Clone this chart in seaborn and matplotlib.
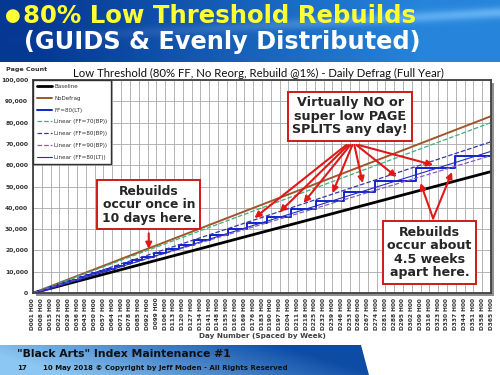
import numpy as np
import pandas as pd
import seaborn as sns
import matplotlib.pyplot as plt
from matplotlib.patches import Rectangle, Polygon

# page counts (day number, pages)
baseline_days = [1, 365]
baseline_pages = [0, 57000]
nodefrag_days = [1, 365]
nodefrag_pages = [0, 83000]

# FF=80(LT): page count jumps at each rebuild, then stays flat
lt_days = [1, 5, 8, 11, 14, 17, 21, 25, 29, 33, 38, 43, 48, 54, 60, 66, 73, 80, 88, 97,
           107, 117, 129, 142, 156, 171, 187, 206, 226, 248, 273, 305, 336, 365]
lt_pages = [0, 1000, 1500, 2100, 2700, 3300, 4000, 4800, 5600, 6300, 7300, 8300, 9200,
            10400, 11500, 12700, 14000, 15400, 16900, 18600, 20500, 22500, 24800, 27300,
            30000, 32800, 35700, 39600, 43400, 47600, 52400, 58600, 64500, 64500]

# linear trend lines (start / end)
trend_days = [1, 365]
trend_ff70_bp = [0, 80000]
trend_ff80_bp = [0, 71000]
trend_ff90_bp = [0, 64500]
trend_ff80_lt = [-500, 66500]

tick_days = list(range(1, 366, 7))
tick_labels = [f"D{d:03d} H00" for d in tick_days]

sns.set_style("white")
plt.rcParams['font.family'] = ['DejaVu Sans']

fig = plt.figure(figsize=(5, 3.75), dpi=100)

# ---- header band
hdr = fig.add_axes([0, 1 - 62 / 375, 1, 62 / 375])
gx = np.linspace(0, 1, 300)
gy = np.linspace(0, 1, 60)[:, None]
c0 = np.array([0.02, 0.22, 0.58])
c1 = np.array([0.15, 0.52, 0.86])
t = np.clip(gx * 1.3 - 0.1, 0, 1)[None, :]
glow = np.exp(-((gy - 0.2 - 0.45 * (1 - gx[None, :])) ** 2) / 0.008) * 0.3 * gx[None, :]
img = c0 + (c1 - c0) * t[..., None] + glow[..., None] * np.array([0.8, 0.6, 0.3])
hdr.imshow(np.clip(img, 0, 1), aspect='auto', extent=[0, 1, 0, 1])
hdr.axis('off')
fig.text(0.010, 1 - 16 / 375, "\u25CF", color='#FFFF33', fontsize=13, va='center')
fig.text(0.046, 1 - 16 / 375, "80% Low Threshold Rebuilds", color='#FFFF33',
         fontsize=17.6, fontweight='bold', va='center')
fig.text(0.048, 1 - 42 / 375, "(GUIDS & Evenly Distributed)", color='white',
         fontsize=17.3, fontweight='bold', va='center')

# ---- footer band
ftr = fig.add_axes([0, 0, 1, 30 / 375])
fx = np.linspace(0, 1, 300)[None, :]
fy = np.linspace(0, 1, 30)[:, None]
fc0 = np.array([0.55, 0.78, 0.95])
fc1 = np.array([0.05, 0.30, 0.65])
ft = np.clip(fx * 1.6 - 0.2 + (1 - fy) * 0.3, 0, 1)
fimg = fc0 + (fc1 - fc0) * ft[..., None]
ftr.imshow(fimg, aspect='auto', extent=[0, 1, 0, 1])
ftr.add_patch(Polygon([[361 / 500, 1], [369 / 500, 0], [1, 0], [1, 1]], closed=True,
                      facecolor='white', edgecolor='none'))
ftr.set_xlim(0, 1)
ftr.set_ylim(0, 1)
ftr.axis('off')
fig.text(0.034, 1 - 354 / 375, '"Black Arts" Index Maintenance #1', color='#101010',
         fontsize=7.8, fontweight='bold', va='center')
fig.text(0.034, 1 - 368 / 375, '17', color='#101010', fontsize=5.0, fontweight='bold', va='center')
fig.text(0.086, 1 - 368 / 375, '10 May 2018 \u00A9 Copyright by Jeff Moden - All Rights Reserved',
         color='#101010', fontsize=5.0, fontweight='bold', va='center')

# ---- chart
ax = fig.add_axes([33 / 500, 1 - 293 / 375, 458 / 500, 213 / 375])
fig.patches.append(Rectangle((36 / 500, 1 - 296 / 375), 458 / 500, 213 / 375,
                             transform=fig.transFigure, facecolor='#909090',
                             edgecolor='none', zorder=-1))
ax.set_facecolor('white')

series = [
    ("Baseline", baseline_days, baseline_pages, '#000000', '-', 2.0, None),
    ("NoDefrag", nodefrag_days, nodefrag_pages, '#A0562A', '-', 1.4, None),
    ("FF=80(LT)", lt_days, lt_pages, '#1020D0', '-', 1.4, 'steps-post'),
    ("Linear (FF=70(BP))", trend_days, trend_ff70_bp, '#3DB07A', '--', 0.9, None),
    ("Linear (FF=80(BP))", trend_days, trend_ff80_bp, '#3636A8', '--', 0.9, None),
    ("Linear (FF=90(BP))", trend_days, trend_ff90_bp, '#8A5AC8', '--', 0.9, None),
    ("Linear (FF=80(LT))", trend_days, trend_ff80_lt, '#2030C0', '-', 0.8, None),
]
for name, xs, ys, col, ls, lw, ds in series:
    df = pd.DataFrame({'day': xs, 'pages': ys})
    kw = {'drawstyle': ds} if ds else {}
    sns.lineplot(data=df, x='day', y='pages', ax=ax, color=col, linestyle=ls, linewidth=lw,
                 label=name, estimator=None, sort=False, **kw)

ax.set_xlim(1, 365)
ax.set_ylim(0, 100000)
ax.set_xticks(tick_days)
ax.set_xticklabels(tick_labels, rotation=90, fontsize=4.2, fontweight='bold', color='#303030')
ax.set_yticks(range(0, 100001, 10000))
ax.set_yticklabels([f"{v:,}" for v in range(0, 100001, 10000)], fontsize=4.3,
                   fontweight='bold', color='#303030')
ax.tick_params(axis='both', length=2, pad=1.5, color='#404040')
ax.grid(True, color='#A8A8A8', linewidth=0.6)
ax.set_axisbelow(True)
for sp in ax.spines.values():
    sp.set_color('#404040')
    sp.set_linewidth(1.3)
ax.set_xlabel("Day Number (Spaced by Week)", fontsize=5.2, fontweight='bold', color='#404040',
              labelpad=2)
ax.xaxis.set_label_coords(0.5, -0.19)
ax.set_ylabel("")
fig.text(0.012, 1 - 70 / 375, "Page Count", fontsize=4.6, fontweight='bold', color='#303030',
         va='center')
fig.text(0.517, 1 - 73 / 375,
         "Low Threshold (80% FF, No Reorg, Rebuild @1%) - Daily Defrag (Full Year)",
         fontsize=8.2, family='Lato', ha='center', va='center', color='#101010')

leg = ax.legend(loc='upper left', fontsize=4.1, frameon=True, fancybox=False,
                borderaxespad=0, handlelength=2.6, labelspacing=1.2, borderpad=0.7,
                handletextpad=0.4, edgecolor='#303030', framealpha=1)
leg.get_frame().set_linewidth(1.0)
for txt in leg.get_texts():
    txt.set_color('#303030')

# ---- callouts
box = dict(boxstyle='square,pad=0.35', facecolor='white', edgecolor='#D01818', linewidth=1.4)
ax.text(253, 83000, "Virtually NO or\nsuper low PAGE\nSPLITS any day!", ha='center', va='center',
        fontsize=9.2, fontweight='bold', linespacing=1.05, bbox=box, zorder=6)
ax.text(93, 41500, "Rebuilds\noccur once in\n10 days here.", ha='center', va='center',
        fontsize=8.9, fontweight='bold', linespacing=1.05, bbox=box, zorder=6)
ax.text(316, 19000, "Rebuilds\noccur about\n4.5 weeks\napart here.", ha='center', va='center',
        fontsize=9.1, fontweight='bold', linespacing=1.05, bbox=box, zorder=6)

arrow = dict(arrowstyle='-|>', color='#E01818', linewidth=1.5, mutation_scale=9,
             shrinkA=0, shrinkB=0)
splits_tips = [(177, 35200), (197, 38000), (216, 42300), (239, 46900), (263, 51600),
               (290, 54500), (319, 60100)]
for i, (tx, ty) in enumerate(splits_tips):
    ax.annotate("", xy=(tx, ty), xytext=(250 + i * 1.6, 69500), arrowprops=arrow, zorder=5)
ax.annotate("", xy=(93, 20700), xytext=(93, 28000), arrowprops=arrow, zorder=5)
for tx, ty in [(309, 51600), (334, 56800)]:
    ax.annotate("", xy=(tx, ty), xytext=(319, 35000), arrowprops=arrow, zorder=5)

fig.savefig("out.png", dpi=100)
